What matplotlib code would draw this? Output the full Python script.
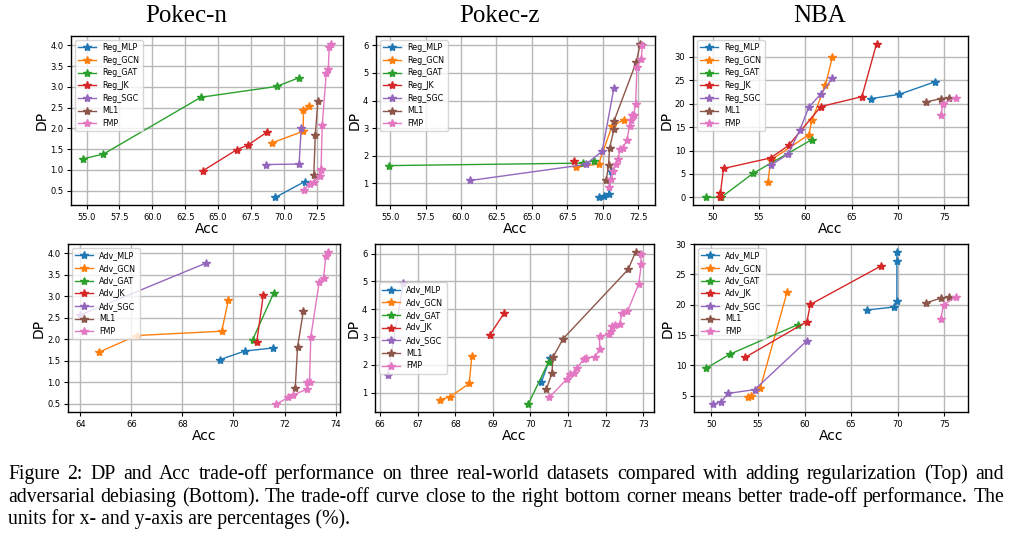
import matplotlib
matplotlib.use('Agg')
import matplotlib.pyplot as plt

# ---------------- data (Acc, DP) ----------------
# Pokec-n, regularization (top-left)
pn_reg_mlp_acc = [69.37, 71.60]
pn_reg_mlp_dp = [0.34, 0.72]
pn_reg_gcn_acc = [69.09, 71.48, 71.50, 71.94]
pn_reg_gcn_dp = [1.65, 1.93, 2.45, 2.53]
pn_reg_gat_acc = [54.75, 56.27, 63.70, 69.45, 71.17]
pn_reg_gat_dp = [1.27, 1.38, 2.75, 3.01, 3.22]
pn_reg_jk_acc = [63.85, 66.44, 67.28, 68.73]
pn_reg_jk_dp = [0.98, 1.49, 1.60, 1.91]
pn_reg_sgc_acc = [68.63, 71.17, 71.33]
pn_reg_sgc_dp = [1.13, 1.14, 2.01]
pn_ml1_acc = [72.29, 72.40, 72.60]
pn_ml1_dp = [0.88, 1.83, 2.66]
pn_fmp_acc = [71.53, 71.99, 72.29, 72.75, 72.80, 72.84, 72.93, 73.24, 73.39, 73.46, 73.57]
pn_fmp_dp = [0.51, 0.67, 0.72, 0.85, 1.00, 1.02, 2.08, 3.34, 3.42, 3.96, 4.04]

# Pokec-z, regularization (top-middle)
pz_reg_mlp_acc = [69.73, 70.06, 70.41, 70.60]
pz_reg_mlp_dp = [0.49, 0.52, 0.61, 1.44]
pz_reg_gcn_acc = [68.13, 69.71, 70.65, 71.49]
pz_reg_gcn_dp = [1.58, 1.70, 3.07, 3.30]
pz_reg_gat_acc = [54.90, 68.62, 69.40]
pz_reg_gat_dp = [1.64, 1.73, 1.82]
pz_reg_jk_acc = [67.94]
pz_reg_jk_dp = [1.82]
pz_reg_sgc_acc = [60.65, 68.79, 69.96, 70.79]
pz_reg_sgc_dp = [1.10, 1.68, 2.16, 4.46]
pz_ml1_acc = [70.25, 70.41, 70.48, 70.79, 70.79, 72.36, 72.65]
pz_ml1_dp = [1.12, 1.67, 2.27, 2.95, 3.25, 5.39, 6.06]
pz_fmp_acc = [70.44, 70.60, 70.72, 70.95, 71.07, 71.24, 71.42, 71.71, 71.89, 72.01,
              72.08, 72.18, 72.32, 72.41, 72.72, 72.79]
pz_fmp_dp = [0.85, 1.16, 1.46, 1.70, 1.88, 2.25, 2.28, 2.57, 3.09, 3.28,
             3.46, 3.46, 3.88, 5.21, 5.52, 6.00]

# NBA, regularization (top-right)
nba_reg_mlp_acc = [67.05, 70.16, 74.02]
nba_reg_mlp_dp = [21.09, 22.01, 24.70]
nba_reg_gcn_acc = [55.96, 56.25, 60.37, 60.73, 62.17, 62.93]
nba_reg_gcn_dp = [3.18, 7.93, 13.38, 16.56, 23.99, 30.00]
nba_reg_gat_acc = [49.21, 50.90, 54.34, 60.69]
nba_reg_gat_dp = [0.00, 0.00, 5.10, 12.31]
nba_reg_jk_acc = [50.83, 50.83, 51.16, 56.25, 58.20, 61.67, 66.11, 67.70]
nba_reg_jk_dp = [0.00, 0.99, 6.16, 8.42, 11.11, 19.39, 21.51, 32.84]
nba_reg_sgc_acc = [56.25, 58.13, 59.39, 60.37, 61.67, 62.93]
nba_reg_sgc_dp = [6.86, 9.20, 14.30, 19.25, 22.08, 25.48]
nba_ml1_acc = [73.05, 74.64, 75.58]
nba_ml1_dp = [20.38, 21.09, 21.30]
nba_fmp_acc = [74.64, 74.93, 76.23]
nba_fmp_dp = [17.69, 20.03, 21.30]

# Pokec-n, adversarial (bottom-left)
pn_adv_mlp_acc = [69.47, 70.45, 71.54]
pn_adv_mlp_dp = [1.53, 1.73, 1.80]
pn_adv_gcn_acc = [64.72, 66.20, 69.54, 69.80]
pn_adv_gcn_dp = [1.70, 2.09, 2.19, 2.91]
pn_adv_gat_acc = [70.75, 71.57]
pn_adv_gat_dp = [1.99, 3.07]
pn_adv_jk_acc = [70.91, 71.17]
pn_adv_jk_dp = [1.93, 3.04]
pn_adv_sgc_acc = [64.00, 68.91]
pn_adv_sgc_dp = [2.57, 3.77]
pn2_ml1_acc = [72.42, 72.51, 72.74]
pn2_ml1_dp = [0.86, 1.82, 2.66]
pn2_fmp_acc = [71.66, 72.15, 72.35, 72.87, 72.90, 72.98, 73.03, 73.36, 73.53, 73.62, 73.69]
pn2_fmp_dp = [0.49, 0.65, 0.71, 0.84, 1.00, 1.01, 2.06, 3.33, 3.43, 3.93, 4.04]

# Pokec-z, adversarial (bottom-middle)
pz_adv_mlp_acc = [70.29, 70.52]
pz_adv_mlp_dp = [1.37, 2.25]
pz_adv_gcn_acc = [67.59, 67.86, 68.37, 68.44]
pz_adv_gcn_dp = [0.75, 0.85, 1.33, 2.32]
pz_adv_gat_acc = [69.94, 70.48]
pz_adv_gat_dp = [0.58, 2.10]
pz_adv_jk_acc = [68.92, 69.30]
pz_adv_jk_dp = [3.08, 3.86]
pz_adv_sgc_acc = [66.20, 66.62]
pz_adv_sgc_dp = [1.65, 4.95]
pz2_ml1_acc = [70.42, 70.57, 70.60, 70.87, 72.60, 72.80]
pz2_ml1_dp = [1.12, 1.69, 2.28, 2.94, 5.43, 6.07]
pz2_fmp_acc = [70.50, 70.96, 71.04, 71.16, 71.25, 71.42, 71.49, 71.72, 71.84, 71.84,
               72.09, 72.13, 72.18, 72.25, 72.37, 72.44, 72.58, 72.88, 72.95, 72.93]
pz2_fmp_dp = [0.83, 1.48, 1.67, 1.71, 1.90, 2.22, 2.26, 2.28, 2.58, 3.02,
              3.11, 3.23, 3.38, 3.45, 3.47, 3.85, 3.92, 4.90, 5.61, 6.00]

# NBA, adversarial (bottom-right)
nba_adv_mlp_acc = [66.70, 69.56, 69.92, 69.92, 69.92]
nba_adv_mlp_dp = [19.13, 19.62, 20.60, 27.17, 28.75]
nba_adv_gcn_acc = [53.93, 54.29, 55.26, 58.12]
nba_adv_gcn_dp = [4.78, 5.05, 6.36, 22.07]
nba_adv_gat_acc = [49.46, 52.04, 59.30]
nba_adv_gat_dp = [9.57, 11.90, 16.74]
nba_adv_jk_acc = [53.65, 60.26, 60.62, 68.24]
nba_adv_jk_dp = [11.36, 17.23, 20.05, 26.41]
nba_adv_sgc_acc = [50.14, 51.07, 51.75, 54.65, 60.26]
nba_adv_sgc_dp = [3.59, 4.02, 5.38, 6.03, 14.08]
nba2_ml1_acc = [73.07, 74.64, 75.57]
nba2_ml1_dp = [20.33, 21.09, 21.25]
nba2_fmp_acc = [74.64, 74.93, 76.22]
nba2_fmp_dp = [17.72, 19.95, 21.25]

reg_labels = ['Reg_MLP', 'Reg_GCN', 'Reg_GAT', 'Reg_JK', 'Reg_SGC', 'ML1', 'FMP']
adv_labels = ['Adv_MLP', 'Adv_GCN', 'Adv_GAT', 'Adv_JK', 'Adv_SGC', 'ML1', 'FMP']
titles = ['Pokec-n', 'Pokec-z', 'NBA']
caption_lines = [
    "Figure 2: DP and Acc trade-off performance on three real-world datasets compared with adding regularization (Top) and",
    "adversarial debiasing (Bottom). The trade-off curve close to the right bottom corner means better trade-off performance. The",
    "units for x- and y-axis are percentages (%).",
]

panels = [
    (reg_labels, [(pn_reg_mlp_acc, pn_reg_mlp_dp), (pn_reg_gcn_acc, pn_reg_gcn_dp), (pn_reg_gat_acc, pn_reg_gat_dp),
                  (pn_reg_jk_acc, pn_reg_jk_dp), (pn_reg_sgc_acc, pn_reg_sgc_dp), (pn_ml1_acc, pn_ml1_dp),
                  (pn_fmp_acc, pn_fmp_dp)]),
    (reg_labels, [(pz_reg_mlp_acc, pz_reg_mlp_dp), (pz_reg_gcn_acc, pz_reg_gcn_dp), (pz_reg_gat_acc, pz_reg_gat_dp),
                  (pz_reg_jk_acc, pz_reg_jk_dp), (pz_reg_sgc_acc, pz_reg_sgc_dp), (pz_ml1_acc, pz_ml1_dp),
                  (pz_fmp_acc, pz_fmp_dp)]),
    (reg_labels, [(nba_reg_mlp_acc, nba_reg_mlp_dp), (nba_reg_gcn_acc, nba_reg_gcn_dp), (nba_reg_gat_acc, nba_reg_gat_dp),
                  (nba_reg_jk_acc, nba_reg_jk_dp), (nba_reg_sgc_acc, nba_reg_sgc_dp), (nba_ml1_acc, nba_ml1_dp),
                  (nba_fmp_acc, nba_fmp_dp)]),
    (adv_labels, [(pn_adv_mlp_acc, pn_adv_mlp_dp), (pn_adv_gcn_acc, pn_adv_gcn_dp), (pn_adv_gat_acc, pn_adv_gat_dp),
                  (pn_adv_jk_acc, pn_adv_jk_dp), (pn_adv_sgc_acc, pn_adv_sgc_dp), (pn2_ml1_acc, pn2_ml1_dp),
                  (pn2_fmp_acc, pn2_fmp_dp)]),
    (adv_labels, [(pz_adv_mlp_acc, pz_adv_mlp_dp), (pz_adv_gcn_acc, pz_adv_gcn_dp), (pz_adv_gat_acc, pz_adv_gat_dp),
                  (pz_adv_jk_acc, pz_adv_jk_dp), (pz_adv_sgc_acc, pz_adv_sgc_dp), (pz2_ml1_acc, pz2_ml1_dp),
                  (pz2_fmp_acc, pz2_fmp_dp)]),
    (adv_labels, [(nba_adv_mlp_acc, nba_adv_mlp_dp), (nba_adv_gcn_acc, nba_adv_gcn_dp), (nba_adv_gat_acc, nba_adv_gat_dp),
                  (nba_adv_jk_acc, nba_adv_jk_dp), (nba_adv_sgc_acc, nba_adv_sgc_dp), (nba2_ml1_acc, nba2_ml1_dp),
                  (nba2_fmp_acc, nba2_fmp_dp)]),
]

# ---------------- layout ----------------
W, H = 1013, 535
fig = plt.figure(figsize=(W / 100, H / 100), dpi=100)
# axes boxes in pixels: left, top, right, bottom
boxes = [(71, 36, 343, 205), (376, 36, 655, 205), (693, 36, 968, 205),
         (68, 244, 340, 412), (375, 244, 654, 412), (694, 244, 968, 412)]
legend_locs = ['upper left', 'upper left', 'upper left', 'upper left', 'center left', 'upper left']
colors = ['C0', 'C1', 'C2', 'C3', 'C4', 'C5', 'C6']

for (labels, series), (l, t, r, b), loc in zip(panels, boxes, legend_locs):
    ax = fig.add_axes([l / W, 1 - b / H, (r - l) / W, (b - t) / H])
    for (acc, dp), lab, c in zip(series, labels, colors):
        ax.plot(acc, dp, marker='*', markersize=6, linewidth=1.0, color=c, label=lab)
    ax.grid(True, color='#b8b8b8', linewidth=1.0)
    ax.set_axisbelow(True)
    ax.tick_params(labelsize=6, length=3, width=0.8, pad=2.5)
    ax.set_xlabel('Acc', fontsize=10, labelpad=0)
    ax.set_ylabel('DP', fontsize=10, labelpad=1)
    for s in ax.spines.values():
        s.set_linewidth(1.0)
    ax.legend(loc=loc, fontsize=5.8, handlelength=2.2, labelspacing=0.45,
              borderpad=0.4, framealpha=0.8)

title_x = [186, 499, 820]
for tx, tt in zip(title_x, titles):
    fig.text(tx / W, 1 - 16 / H, tt, ha='center', va='center',
             family='Liberation Serif', fontsize=18)

# caption (justified first two lines)
renderer = fig.canvas.get_renderer()
cap_kw = dict(family='Liberation Serif', fontsize=14.2, va='baseline', ha='left')
base_y = [479, 502, 524]
x0, x1 = 8, 1004
for i, (line, by) in enumerate(zip(caption_lines, base_y)):
    if i < 2:
        words = line.split(' ')
        objs = [fig.text(0, 1 - by / H, w, **cap_kw) for w in words]
        widths = [o.get_window_extent(renderer).width for o in objs]
        gap = (x1 - x0 - sum(widths)) / (len(words) - 1)
        x = x0
        for o, wd in zip(objs, widths):
            o.set_x(x / W)
            x += wd + gap
    else:
        fig.text(x0 / W, 1 - by / H, line, **cap_kw)

fig.savefig('out.png', dpi=100)
